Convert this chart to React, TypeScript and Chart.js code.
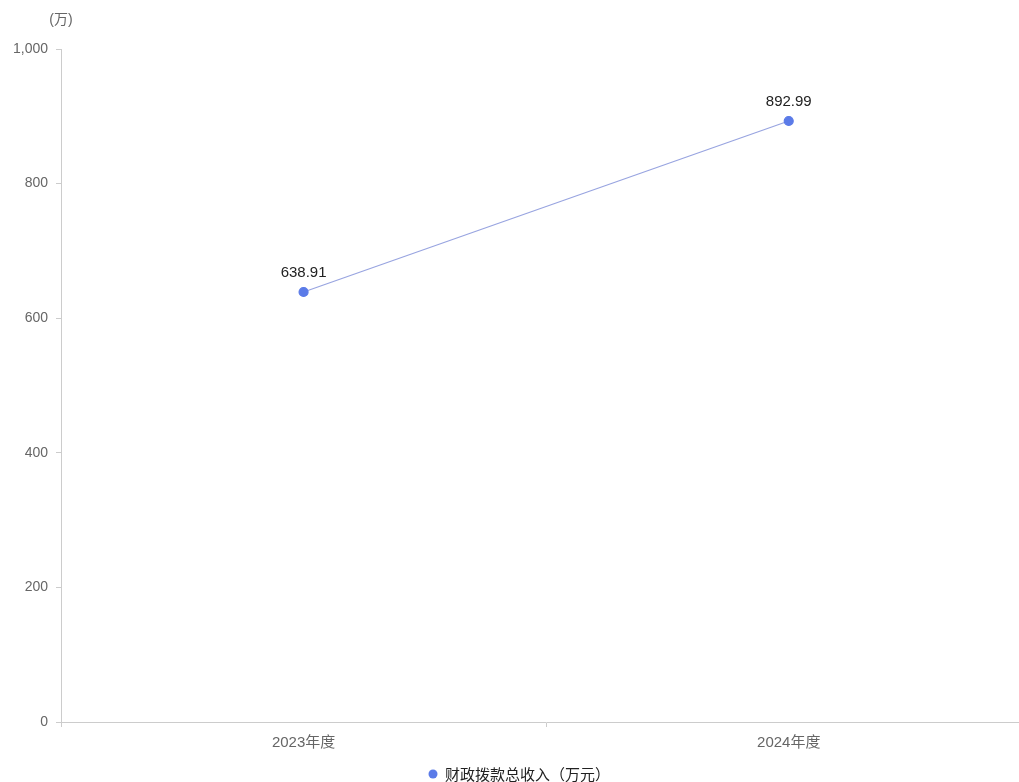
import React, { useEffect, useRef } from "react";
import { Chart, registerables } from "chart.js";

Chart.register(...registerables);

const categories = ["2023年度", "2024年度"];
const seriesName = "财政拨款总收入（万元）";
const seriesValues = [638.91, 892.99];
const yTicks = [0, 200, 400, 600, 800, 1000];
const unitLabel = "(万)";

const FONT = '"Liberation Sans", Arial, "Noto Sans CJK SC", sans-serif';

const overlayPlugin = {
  id: "overlay",
  afterDatasetsDraw(chart: any) {
    const ctx = chart.ctx;
    const meta = chart.getDatasetMeta(0);
    ctx.save();
    ctx.font = `15px ${FONT}`;
    ctx.fillStyle = "#222";
    ctx.textAlign = "center";
    ctx.textBaseline = "bottom";
    meta.data.forEach((pt: any, i: number) => {
      ctx.fillText(String(seriesValues[i].toFixed(2)), pt.x, pt.y - 12);
    });
    // unit label
    const yScale = chart.scales.y;
    ctx.font = `14px ${FONT}`;
    ctx.fillStyle = "#666";
    ctx.textAlign = "center";
    ctx.textBaseline = "middle";
    ctx.fillText(unitLabel, yScale.right, 20);
    // legend
    ctx.font = `15px "Noto Sans CJK SC", ${FONT}`;
    ctx.textAlign = "left";
    ctx.textBaseline = "middle";
    ctx.beginPath();
    ctx.arc(433, 774, 4.5, 0, Math.PI * 2);
    ctx.fillStyle = "#5b7be8";
    ctx.fill();
    ctx.fillStyle = "#222";
    ctx.fillText(seriesName, 445, 774);
    ctx.restore();
  },
};

export default function App() {
  const ref = useRef<HTMLCanvasElement | null>(null);
  useEffect(() => {
    document.body.style.margin = "0";
    document.body.style.overflow = "hidden";
    if (!ref.current) return;
    const chart = new Chart(ref.current, {
      type: "line",
      data: {
        labels: categories,
        datasets: [
          {
            label: seriesName,
            data: seriesValues,
            borderColor: "#98a4e0",
            borderWidth: 1.2,
            pointBackgroundColor: "#5b7be8",
            pointBorderColor: "#5b7be8",
            pointRadius: 4.5,
            pointHoverRadius: 4.5,
            tension: 0,
          },
        ],
      },
      options: {
        animation: false,
        responsive: false,
        layout: { padding: { top: 49, right: 0, bottom: 0, left: 0 } },
        plugins: {
          legend: { display: false },
          tooltip: { enabled: false },
          title: { display: false },
        },
        scales: {
          x: {
            offset: true,
            grid: {
              offset: true,
              drawOnChartArea: false,
              drawTicks: true,
              tickLength: 5,
              color: "#ccc",
            },
            border: { color: "#ccc" },
            ticks: {
              color: "#666",
              font: { size: 15, family: FONT },
              padding: 7,
            },
            afterFit(scale: any) {
              scale.height = 60;
            },
          },
          y: {
            min: 0,
            max: 1000,
            afterBuildTicks(scale: any) {
              scale.ticks = yTicks.map((v) => ({ value: v }));
            },
            grid: {
              drawOnChartArea: false,
              drawTicks: true,
              tickLength: 5,
              color: "#ccc",
            },
            border: { color: "#ccc" },
            ticks: {
              color: "#666",
              font: { size: 14, family: FONT },
              padding: 8,
              callback: (v: any) => Number(v).toLocaleString("en-US"),
            },
            afterFit(scale: any) {
              scale.width = 61;
            },
          },
        },
      },
      plugins: [overlayPlugin],
    });
    return () => chart.destroy();
  }, []);
  return (
    <div style={{ position: "relative", width: 1019, height: 782, overflow: "hidden" }}>
      <canvas ref={ref} width={1037} height={782} style={{ display: "block" }} />
    </div>
  );
}
